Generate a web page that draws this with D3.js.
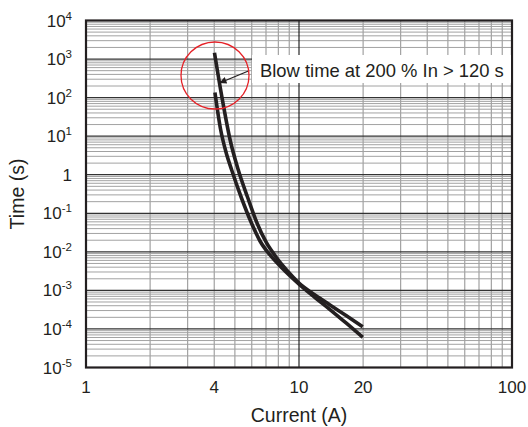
<!DOCTYPE html>
<html>
<head>
<meta charset="utf-8">
<script src="https://cdn.jsdelivr.net/npm/d3@7"></script>
<style>
    body { margin: 0; background: #fff; }
    svg { display: block; font-family: "Liberation Sans", Arial, sans-serif; }
</style>
</head>
<body>
<div id="chart"></div>
<script>
// Tick labels
const xTicks = [1, 4, 10, 20, 100];
const yExponents = [-5, -4, -3, -2, -1, 0, 1, 2, 3, 4];

// Upper curve (starts ~1.5e3 s at 4 A)
const maxCurrent = [4.01, 4.37, 4.75, 5.17, 5.73, 6.35, 7.00, 7.80, 8.78, 10, 11.89, 13.98, 16.63, 19.91];
const maxTime = [1460, 87, 7.95, 1.41, 0.264, 0.056, 0.018, 0.00735, 0.00328, 0.00155, 7.6e-4, 4.18e-4, 2.23e-4, 1.14e-4];

// Lower curve (starts ~1.4e2 s at 4 A)
const minCurrent = [4.03, 4.29, 4.54, 4.83, 5.37, 5.98, 6.56, 7.31, 8.32, 10, 11.89, 13.98, 16.63, 19.91];
const minTime = [136, 14.45, 3.89, 1.33, 0.249, 0.056, 0.0191, 0.00828, 0.00381, 0.00146, 6.54e-4, 3.19e-4, 1.43e-4, 6.07e-5];

const annotation = 'Blow time at 200 % In > 120 s';

const W = 528, H = 427;
const margin = {top: 20.5, right: 16, bottom: 59.5, left: 86};
const width = W - margin.left - margin.right;
const height = H - margin.top - margin.bottom;

const svg = d3.select('#chart').append('svg')
    .attr('width', W)
    .attr('height', H);

const g = svg.append('g')
    .attr('transform', `translate(${margin.left},${margin.top})`);

const x = d3.scaleLog().domain([1, 100]).range([0, width]);
const y = d3.scaleLog().domain([1e-5, 1e4]).range([height, 0]);

// Minor grid values (2..9 in every decade)
const xMinor = [];
[1, 10].forEach(d => { for (let k = 2; k <= 9; k++) xMinor.push(k * d); });
const yMinor = [];
for (let e = -5; e <= 3; e++) {
    for (let k = 2; k <= 9; k++) yMinor.push(k * Math.pow(10, e));
}

g.selectAll('.hminor')
    .data(yMinor)
    .enter().append('line')
    .attr('x1', 0).attr('x2', width)
    .attr('y1', d => y(d)).attr('y2', d => y(d))
    .attr('stroke', '#a2a2a2')
    .attr('stroke-width', 1);

g.selectAll('.vminor')
    .data(xMinor)
    .enter().append('line')
    .attr('x1', d => x(d)).attr('x2', d => x(d))
    .attr('y1', 0).attr('y2', height)
    .attr('stroke', '#a2a2a2')
    .attr('stroke-width', 1.2);

// Decade lines
g.selectAll('.hmajor')
    .data(yExponents.slice(1, -1))
    .enter().append('line')
    .attr('x1', 0).attr('x2', width)
    .attr('y1', d => y(Math.pow(10, d))).attr('y2', d => y(Math.pow(10, d)))
    .attr('stroke', '#333')
    .attr('stroke-width', 1.3);

g.append('line')
    .attr('x1', x(10)).attr('x2', x(10))
    .attr('y1', 0).attr('y2', height)
    .attr('stroke', '#111')
    .attr('stroke-width', 1.1);

// Curves
const line = d3.line()
    .x(d => x(d[0]))
    .y(d => y(d[1]))
    .curve(d3.curveMonotoneX);

[[maxCurrent, maxTime], [minCurrent, minTime]].forEach(([cur, t]) => {
    g.append('path')
        .datum(cur.map((c, i) => [c, t[i]]))
        .attr('fill', 'none')
        .attr('stroke', '#231f20')
        .attr('stroke-width', 3.6)
        .attr('d', line);
});

// Frame
g.append('rect')
    .attr('width', width)
    .attr('height', height)
    .attr('fill', 'none')
    .attr('stroke', '#231f20')
    .attr('stroke-width', 2.2);

// Annotation box + text
const boxX = 252 - margin.left;
g.append('rect')
    .attr('x', boxX)
    .attr('y', 55 - margin.top)
    .attr('width', width - boxX - 1)
    .attr('height', 28)
    .attr('fill', '#fff');

g.append('text')
    .attr('x', 260 - margin.left)
    .attr('y', 76.5 - margin.top)
    .style('font-size', '18.4px')
    .attr('fill', '#231f20')
    .text(annotation);

// Arrow pointing at the upper curve
svg.append('defs').append('marker')
    .attr('id', 'arrow')
    .attr('viewBox', '0 0 10 10')
    .attr('refX', 10).attr('refY', 5)
    .attr('markerWidth', 9).attr('markerHeight', 7)
    .attr('markerUnits', 'userSpaceOnUse')
    .attr('orient', 'auto')
    .append('path')
    .attr('d', 'M0,0 L10,5 L0,10 Z')
    .attr('fill', '#231f20');

const tipX = x(maxCurrent[0]) + 5, tipY = 83 - margin.top;
g.append('line')
    .attr('x1', 249 - margin.left).attr('y1', 70.7 - margin.top)
    .attr('x2', tipX).attr('y2', tipY)
    .attr('stroke', '#231f20')
    .attr('stroke-width', 1.2)
    .attr('marker-end', 'url(#arrow)');

// Red circle around the curve starts
g.append('ellipse')
    .attr('cx', 215 - margin.left)
    .attr('cy', 75.5 - margin.top)
    .attr('rx', 34)
    .attr('ry', 33.5)
    .attr('fill', 'none')
    .attr('stroke', '#e52228')
    .attr('stroke-width', 1.3);

// X tick labels
g.selectAll('.xlabel')
    .data(xTicks)
    .enter().append('text')
    .attr('x', d => x(d))
    .attr('y', height + 25.5)
    .attr('text-anchor', 'middle')
    .style('font-size', '17px')
    .attr('fill', '#231f20')
    .text(d => d);

// Y tick labels with superscripts
const yl = g.selectAll('.ylabel')
    .data(yExponents)
    .enter().append('text')
    .attr('x', -14)
    .attr('y', d => y(Math.pow(10, d)) + 6)
    .attr('text-anchor', 'end')
    .style('font-size', '17px')
    .attr('fill', '#231f20');

yl.filter(d => d === 0).text('1');
yl.filter(d => d !== 0).each(function(d) {
    const t = d3.select(this);
    t.append('tspan').text('10');
    t.append('tspan')
        .attr('dy', -7)
        .style('font-size', '11.5px')
        .text(d);
});

// Axis titles
g.append('text')
    .attr('x', width / 2)
    .attr('y', height + 54)
    .attr('text-anchor', 'middle')
    .style('font-size', '19.5px')
    .attr('fill', '#231f20')
    .text('Current (A)');

g.append('text')
    .attr('transform', `translate(${24 - margin.left},${height / 2}) rotate(-90)`)
    .attr('text-anchor', 'middle')
    .style('font-size', '19.5px')
    .attr('fill', '#231f20')
    .text('Time (s)');
</script>
</body>
</html>
